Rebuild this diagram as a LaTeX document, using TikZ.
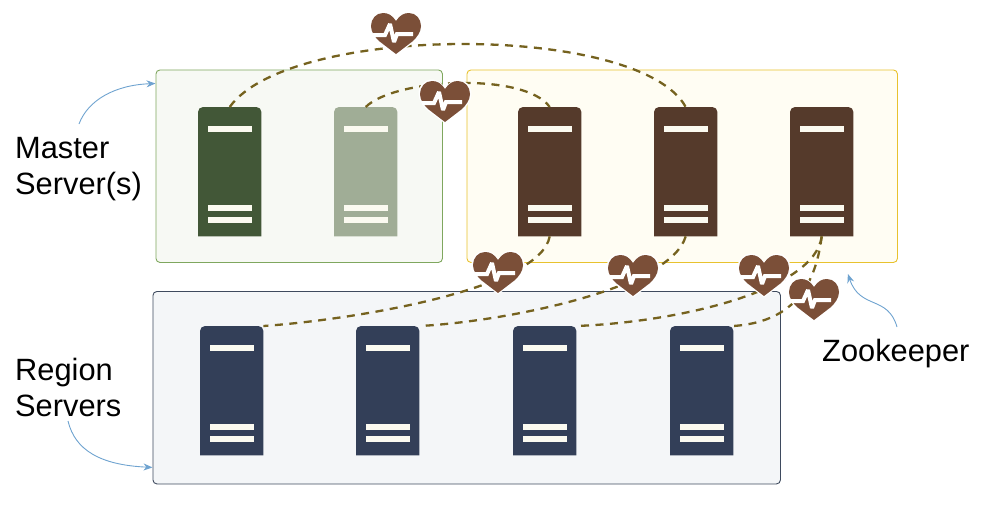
\documentclass[tikz,border=0pt]{standalone}
\usepackage{fontspec}
\setmainfont{Liberation Sans}
\usetikzlibrary{arrows.meta}
\definecolor{heartc}{HTML}{7B4F38}
\definecolor{brownc}{HTML}{553A2B}
\definecolor{greenc}{HTML}{425737}
\definecolor{lgreenc}{HTML}{A0AD96}
\definecolor{navyc}{HTML}{333F58}
\definecolor{barc}{HTML}{FBFAF0}
\definecolor{dashc}{HTML}{75621F}
\definecolor{arrowc}{HTML}{6FA3D0}
\definecolor{mfill}{HTML}{F7F9F4}
\definecolor{zfill}{HTML}{FFFDF3}
\definecolor{rfill}{HTML}{F4F6F8}
\definecolor{medge}{HTML}{7FA75E}
\definecolor{zedge}{HTML}{E8C22E}
\definecolor{redge}{HTML}{3E4A5E}
\tikzset{
  panel/.style={line width=0.9pt, rounded corners=4pt, minimum height=192.5pt, inner sep=0pt, anchor=north west},
  srvnode/.style={inner sep=0pt, minimum width=63pt, minimum height=129pt, anchor=north west},
  beat/.style={draw=dashc, line width=2.3pt, dash pattern=on 8pt off 6.5pt},
  note/.style={draw=arrowc, line width=0.9pt, -{Stealth[length=9pt,width=7pt]}},
  lbl/.style={inner sep=0pt, anchor=north west, align=left, font=\fontsize{30.8}{36}\selectfont},
  heart/.pic={
    \fill[white] (0,-13) .. controls (-4,-19) and (-8,-21.5) .. (-13,-21.5) .. controls (-21,-21.5) and (-26.5,-15) .. (-26.5,-7) .. controls (-26.5,-1) and (-22,5) .. (-18,9) -- (0,22.5) -- (18,9) .. controls (22,5) and (26.5,-1) .. (26.5,-7) .. controls (26.5,-15) and (21,-21.5) .. (13,-21.5) .. controls (8,-21.5) and (4,-19) .. (0,-13) -- cycle;
    \fill[heartc] (0,-12) .. controls (-4,-18) and (-8,-20) .. (-13,-20) .. controls (-20,-20) and (-25,-14) .. (-25,-7) .. controls (-25,-1) and (-21,4) .. (-17,8) -- (0,21) -- (17,8) .. controls (21,4) and (25,-1) .. (25,-7) .. controls (25,-14) and (20,-20) .. (13,-20) .. controls (8,-20) and (4,-18) .. (0,-12) -- cycle;
    \draw[white, line width=4pt, line join=miter, miter limit=3] (-23,2) -- (-11,2) -- (-6,-9) -- (-2,9) -- (1,1) -- (17,1);
  }
}
\newcommand{\srv}[4]{%
  \node[srvnode] (#1) at (#2,#3) {};
  \fill[#4] (#1.south west) [rounded corners=5pt] -- (#1.north west) -- (#1.north east) [sharp corners] -- (#1.south east) -- cycle;
  \fill[barc] ([shift={(10,19)}]#1.north west) rectangle ([shift={(54,25)}]#1.north west);
  \fill[barc] ([shift={(10,97.5)}]#1.north west) rectangle ([shift={(54,104)}]#1.north west);
  \fill[barc] ([shift={(10,110)}]#1.north west) rectangle ([shift={(54,116)}]#1.north west);
}
\begin{document}
\begin{tikzpicture}[x=1pt,y=-1pt]
\useasboundingbox (0,0) rectangle (983,515);
% panels
\node[panel, fill=mfill, draw=medge, minimum width=286.5pt] (mb) at (155.5,69.5) {};
\node[panel, fill=zfill, draw=zedge, minimum width=430.5pt] (zb) at (466.5,69.5) {};
\node[panel, fill=rfill, draw=redge, minimum width=627.5pt] (rb) at (152.5,291) {};
% servers
\srv{m1}{198}{107}{greenc}
\srv{m2}{334}{107}{lgreenc}
\srv{z1}{518}{107}{brownc}
\srv{z2}{654}{107}{brownc}
\srv{z3}{790}{107}{brownc}
\srv{r1}{200}{326}{navyc}
\srv{r2}{356}{326}{navyc}
\srv{r3}{513}{326}{navyc}
\srv{r4}{670}{326}{navyc}
% heartbeat lines
\draw[beat] (m1.north) .. controls (290,23) and (640,23) .. (z2.north);
\draw[beat] (m2.north) .. controls (395,78) and (525,72) .. (z1.north);
\draw[beat] (z1.south) .. controls (540,290) and (350,320) .. (r1.north east);
\draw[beat] (z2.south) .. controls (670,290) and (500,322) .. (r2.north east);
\draw[beat] (z3.south) .. controls (815,290) and (680,322) .. (r3.north east);
\draw[beat] (z3.south) .. controls (815,290) and (790,322) .. (r4.north east);
% hearts
\coordinate (h1) at (396,33);
\coordinate (h2) at (445,101);
\coordinate (h3) at (498,272);
\coordinate (h4) at (633,275);
\coordinate (h5) at (764,275);
\coordinate (h6) at (814,299);
\pic at (h1) {heart};
\pic at (h2) {heart};
\pic at (h3) {heart};
\pic at (h4) {heart};
\pic at (h5) {heart};
\pic at (h6) {heart};
% labels
\node[lbl] (lm) at (15,137) {Master\\Server(s)};
\node[lbl] (lr) at (15,358) {Region\\Servers};
\node[lbl] (lz) at (822,339) {Zookeeper};
% notes
\draw[note] ([xshift=64pt]lm.north west) ++(0,-13) .. controls (88,100) and (115,85) .. ([yshift=-14pt]mb.north west);
\draw[note] ([xshift=53pt]lr.south west) ++(0,4) .. controls (75,450) and (100,465) .. ([yshift=17pt]rb.south west);
\draw[note] ([xshift=75pt]lz.north west) ++(0,-12) .. controls (888,295) and (860,310) .. ([xshift=-50pt,yshift=-11pt]zb.south east);
\end{tikzpicture}
\end{document}
